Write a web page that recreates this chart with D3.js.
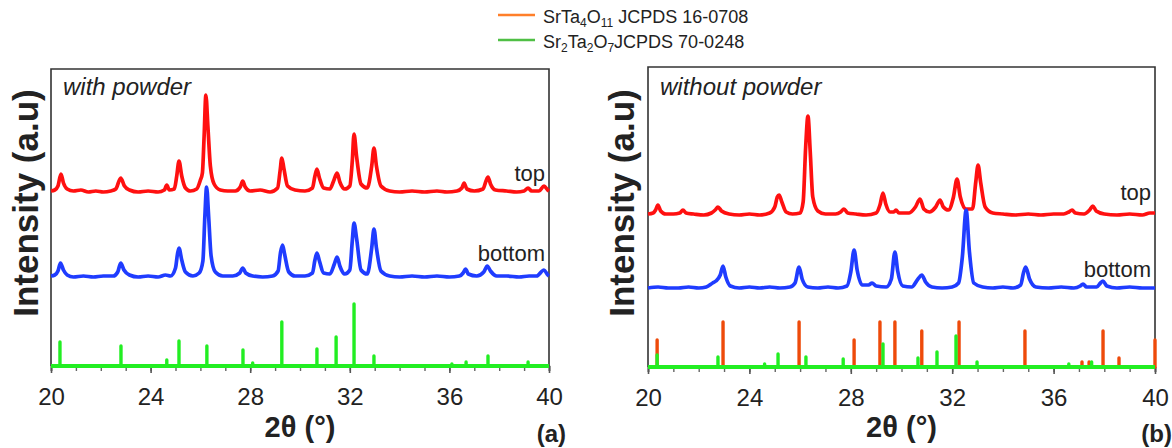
<!DOCTYPE html>
<html>
<head>
<meta charset="utf-8">
<script src="https://cdn.jsdelivr.net/npm/d3@7"></script>
<style>
    body { margin: 0; background: #fff; }
    svg { display: block; font-family: "Liberation Sans", Arial, sans-serif; }
</style>
</head>
<body>
<div id="chart"></div>
<script>
// XRD patterns, [2theta, intensity a.u.]
var withTop = [[20.0,175],[20.15,176],[20.28,180],[20.4,192],[20.5,183],[20.65,177],[20.9,175],[21.2,176],[21.5,174],[21.8,175],[22.1,174],[22.4,175],[22.6,177],[22.8,188],[22.95,180],[23.15,176],[23.5,174],[23.9,175],[24.3,174],[24.55,176],[24.65,181],[24.75,176],[24.95,177],[25.05,190],[25.14,205],[25.25,190],[25.4,178],[25.6,175],[25.85,177],[26.0,186],[26.08,193],[26.15,230],[26.22,271],[26.3,240],[26.4,200],[26.55,182],[26.8,176],[27.1,175],[27.4,175],[27.6,179],[27.7,185],[27.8,179],[28.0,175],[28.4,176],[28.8,174],[29.1,178],[29.2,195],[29.27,208],[29.35,198],[29.5,180],[29.8,176],[30.2,175],[30.5,178],[30.6,190],[30.68,197],[30.78,188],[30.95,178],[31.2,177],[31.35,185],[31.49,193],[31.6,184],[31.8,177],[32.0,180],[32.1,205],[32.17,232],[32.27,210],[32.45,182],[32.7,178],[32.88,200],[32.97,218],[33.07,200],[33.25,180],[33.6,175],[34.0,174],[34.5,175],[35.0,174],[35.5,175],[35.9,174],[36.3,175],[36.5,178],[36.59,183],[36.7,177],[37.0,175],[37.35,177],[37.47,185],[37.55,189],[37.65,182],[37.85,176],[38.3,175],[38.7,174],[39.0,175],[39.16,178],[39.3,175],[39.6,175],[39.8,180],[39.95,176],[40.0,175]];

var withBottom = [[20.0,90],[20.15,91],[20.28,95],[20.38,103],[20.5,96],[20.65,91],[20.9,89],[21.3,90],[21.7,89],[22.1,90],[22.5,90],[22.68,94],[22.8,103],[22.93,96],[23.15,91],[23.5,89],[23.9,90],[24.3,89],[24.6,91],[24.8,90],[25.0,98],[25.08,112],[25.14,118],[25.25,106],[25.4,94],[25.7,90],[25.95,93],[26.1,105],[26.18,150],[26.25,179],[26.33,150],[26.43,110],[26.6,94],[26.9,90],[27.3,90],[27.58,93],[27.7,98],[27.82,93],[28.1,90],[28.5,89],[28.9,90],[29.12,95],[29.22,114],[29.3,121],[29.38,112],[29.55,94],[29.8,90],[30.2,90],[30.5,93],[30.6,106],[30.68,113],[30.78,105],[30.95,93],[31.2,92],[31.38,102],[31.49,109],[31.6,100],[31.8,92],[32.0,96],[32.1,125],[32.17,143],[32.27,128],[32.45,96],[32.7,92],[32.88,118],[32.97,137],[33.07,118],[33.25,95],[33.6,90],[34.0,89],[34.5,90],[35.0,89],[35.5,90],[36.0,89],[36.4,90],[36.55,93],[36.65,97],[36.76,92],[37.1,90],[37.38,94],[37.52,100],[37.65,95],[37.9,90],[38.3,90],[38.8,89],[39.2,90],[39.5,90],[39.8,96],[39.95,91],[40.0,90]];

var withoutTop = [[20.0,153],[20.2,154],[20.3,157],[20.39,162],[20.5,156],[20.7,153],[21.0,153],[21.25,154],[21.38,157],[21.5,154],[21.8,153],[22.2,152],[22.5,154],[22.65,157],[22.76,160],[22.9,156],[23.2,153],[23.6,152],[24.0,153],[24.4,152],[24.8,154],[25.0,160],[25.1,170],[25.17,172],[25.28,165],[25.45,155],[25.7,153],[26.0,154],[26.12,165],[26.22,220],[26.31,251],[26.4,215],[26.5,170],[26.7,156],[27.0,153],[27.4,153],[27.6,155],[27.73,158],[27.88,154],[28.2,153],[28.6,152],[29.0,154],[29.15,162],[29.27,174],[29.38,163],[29.55,155],[29.7,155],[29.78,157],[29.9,154],[30.3,154],[30.55,160],[30.73,168],[30.88,158],[31.1,155],[31.35,160],[31.52,167],[31.65,160],[31.85,157],[32.05,170],[32.19,188],[32.32,170],[32.55,158],[32.8,158],[32.93,185],[33.02,202],[33.12,185],[33.3,160],[33.6,154],[34.0,153],[34.5,152],[35.0,153],[35.5,152],[36.0,153],[36.4,153],[36.6,155],[36.73,157],[36.86,154],[37.2,153],[37.42,157],[37.55,161],[37.68,156],[38.0,153],[38.5,152],[39.0,153],[39.5,152],[39.8,154],[40.0,154]];

var withoutBottom = [[20.0,79],[20.4,80],[20.8,79],[21.2,79],[21.6,80],[22.0,79],[22.3,80],[22.55,84],[22.68,86],[22.85,92],[22.96,101],[23.07,90],[23.25,81],[23.6,79],[24.0,80],[24.4,79],[24.8,80],[25.2,79],[25.6,80],[25.8,84],[25.96,100],[26.08,88],[26.3,80],[26.7,79],[27.1,80],[27.5,79],[27.85,81],[28.0,95],[28.13,117],[28.25,97],[28.45,82],[28.7,82],[28.84,84],[29.0,81],[29.4,80],[29.6,88],[29.74,115],[29.85,96],[30.05,81],[30.4,80],[30.65,88],[30.8,92],[30.95,85],[31.2,80],[31.6,79],[32.0,80],[32.25,84],[32.4,110],[32.55,157],[32.68,115],[32.85,84],[33.2,80],[33.6,79],[34.0,80],[34.4,79],[34.7,82],[34.82,95],[34.9,100],[35.05,88],[35.3,80],[35.8,79],[36.3,80],[36.8,79],[37.05,81],[37.16,83],[37.3,80],[37.7,80],[37.85,84],[37.95,86],[38.1,81],[38.5,79],[39.0,80],[39.5,79],[40.0,79]];

// reference sticks [2theta, relative intensity]
var sr2ta2o7A = [[20.36,24],[22.81,20],[24.65,6],[25.14,25],[26.26,20],[27.71,16],[28.1,3],[29.27,44],[30.68,17],[31.45,29],[32.17,62],[32.97,10],[36.1,2],[36.67,4],[37.55,10],[39.16,4]];
var sr2ta2o7B = [[20.36,12],[22.76,10],[24.6,3],[25.13,13],[26.23,10],[27.7,8],[29.27,23],[30.65,9],[31.4,15],[32.15,31],[32.98,5],[36.6,3],[37.5,5]];
var srta4o11B = [[20.36,27],[22.96,45],[25.96,45],[28.13,27],[29.15,45],[29.74,45],[30.8,36],[32.27,45],[34.87,36],[37.12,5],[37.4,5],[37.95,36],[38.58,9],[40.0,27]];

var majorTicks = [20, 24, 28, 32, 36, 40];
var minorTicks = d3.range(20, 41, 1);

(function () {
    var width = 1172,
        height = 448;

    var svg = d3.select("#chart")
        .append("svg")
        .attr("width", width)
        .attr("height", height);

    var ink = "#222";

    function drawPanel(p) {
        var x = d3.scaleLinear().domain([20, 40]).range([p.left, p.right]);
        var y = d3.scaleLinear().domain([0, 300]).range([p.bottom, p.bottom - 300]);
        var g = svg.append("g");

        // frame
        g.append("path")
            .attr("d", "M" + p.left + "," + p.bottom + "V" + p.top + "H" + p.right + "V" + p.bottom)
            .attr("fill", "none")
            .attr("stroke", "#333")
            .attr("stroke-width", 1.6);

        // minor + major ticks
        var minor = g.append("g")
            .attr("transform", "translate(0," + p.bottom + ")")
            .call(d3.axisBottom(x).tickValues(minorTicks).tickSize(5).tickFormat(""));
        minor.select(".domain").attr("stroke", "#333").attr("stroke-width", 1.6);
        minor.selectAll(".tick line").attr("stroke", "#666").attr("stroke-width", 1.4);

        var major = g.append("g")
            .attr("transform", "translate(0," + p.bottom + ")")
            .call(d3.axisBottom(x).tickValues(majorTicks).tickSize(7).tickPadding(15).tickFormat(d3.format("d")));
        major.select(".domain").remove();
        major.selectAll(".tick line").attr("stroke", "#555").attr("stroke-width", 1.6);
        major.selectAll(".tick text")
            .attr("fill", ink)
            .style("font-size", "24px")
            .style("font-family", "'Liberation Sans', Arial, sans-serif");

        // reference sticks
        p.sticks.forEach(function (s) {
            g.selectAll(null)
                .data(s.data)
                .enter().append("line")
                .attr("x1", function (d) { return x(d[0]); })
                .attr("x2", function (d) { return x(d[0]); })
                .attr("y1", y(0))
                .attr("y2", function (d) { return y(d[1]); })
                .attr("stroke", s.color)
                .attr("stroke-width", 3.4)
                .attr("stroke-linecap", "round");
        });
        g.append("line")
            .attr("x1", x(20)).attr("x2", x(40))
            .attr("y1", y(0)).attr("y2", y(0))
            .attr("stroke", "#22ee22")
            .attr("stroke-width", 4);

        var line = d3.line()
            .x(function (d) { return x(d[0]); })
            .y(function (d) { return y(d[1]); })
            .curve(d3.curveMonotoneX);

        p.curves.forEach(function (c) {
            g.append("path")
                .datum(c.data)
                .attr("d", line)
                .attr("fill", "none")
                .attr("stroke", c.color)
                .attr("stroke-width", 3.7)
                .attr("stroke-linejoin", "round");
        });

        g.append("text")
            .attr("x", p.left + 12).attr("y", 95)
            .attr("fill", ink)
            .style("font-size", "24px")
            .style("font-style", "italic")
            .text(p.title);

        g.append("text")
            .attr("x", p.right - 4).attr("y", p.topLabelY)
            .attr("text-anchor", "end")
            .attr("fill", ink)
            .style("font-size", "22px")
            .text("top");
        g.append("text")
            .attr("x", p.right - 4).attr("y", p.bottomLabelY)
            .attr("text-anchor", "end")
            .attr("fill", ink)
            .style("font-size", "22px")
            .text("bottom");

        g.append("text")
            .attr("transform", "translate(" + p.yLabelX + ",203) rotate(-90)")
            .attr("text-anchor", "middle")
            .attr("fill", ink)
            .style("font-size", "35px")
            .style("font-weight", "bold")
            .text("Intensity (a.u)");

        g.append("text")
            .attr("x", (p.left + p.right) / 2).attr("y", 437)
            .attr("text-anchor", "middle")
            .attr("fill", ink)
            .style("font-size", "29px")
            .style("font-weight", "bold")
            .text("2θ (°)");

        g.append("text")
            .attr("x", p.right + 17).attr("y", 442)
            .attr("text-anchor", "end")
            .attr("fill", ink)
            .style("font-size", "24px")
            .style("font-weight", "bold")
            .text(p.tag);
    }

    drawPanel({
        left: 51, right: 549, top: 69, bottom: 366,
        title: "with powder", tag: "(a)",
        topLabelY: 181, bottomLabelY: 261, yLabelX: 38,
        sticks: [{data: sr2ta2o7A, color: "#22ee22"}],
        curves: [{data: withTop, color: "#ff1010"}, {data: withBottom, color: "#1f3cff"}]
    });

    drawPanel({
        left: 648, right: 1155, top: 67, bottom: 367,
        title: "without powder", tag: "(b)",
        topLabelY: 200, bottomLabelY: 277, yLabelX: 634,
        sticks: [{data: srta4o11B, color: "#ee4a0a"}, {data: sr2ta2o7B, color: "#22ee22"}],
        curves: [{data: withoutTop, color: "#ff1010"}, {data: withoutBottom, color: "#1f3cff"}]
    });

    // legend
    var legend = [
        {color: "#ff7f2a", parts: [["SrTa", 0], ["4", 1], ["O", 0], ["11", 1], [" JCPDS 16-0708", 0]]},
        {color: "#4fbf45", parts: [["Sr", 0], ["2", 1], ["Ta", 0], ["2", 1], ["O", 0], ["7", 1], ["JCPDS 70-0248", 0]]}
    ];
    var lg = svg.append("g");
    legend.forEach(function (item, i) {
        var ly = 15 + i * 25;
        lg.append("line")
            .attr("x1", 498).attr("x2", 535)
            .attr("y1", ly).attr("y2", ly)
            .attr("stroke", item.color)
            .attr("stroke-width", 2.5);
        var t = lg.append("text")
            .attr("x", 543).attr("y", ly + 8)
            .attr("fill", ink)
            .style("font-size", "18px");
        var shifted = 0;
        item.parts.forEach(function (part) {
            var dy = part[1] ? 4 - shifted : -shifted;
            shifted += dy;
            t.append("tspan")
                .attr("dy", dy)
                .style("font-size", part[1] ? "12px" : "18px")
                .text(part[0]);
        });
    });
})();
</script>
</body>
</html>
